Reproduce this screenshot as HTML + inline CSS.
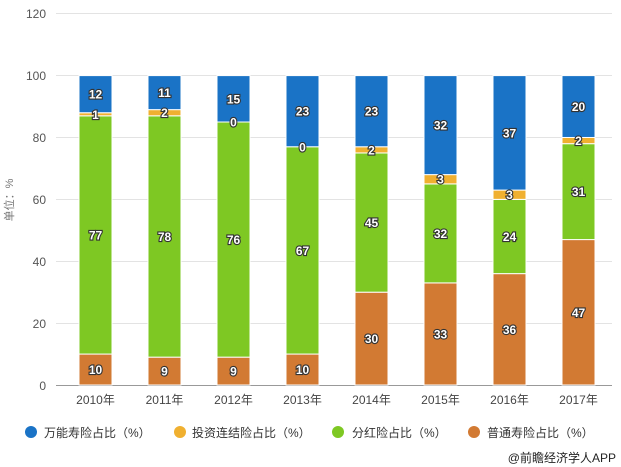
<!DOCTYPE html>
<html><head><meta charset="utf-8"><style>
html,body{margin:0;padding:0;background:#fff;}
svg{display:block;font-family:"Liberation Sans","Noto Sans CJK SC",sans-serif;}
.v{font-size:12px;font-weight:bold;fill:#fff;stroke:#333;stroke-width:2.2px;paint-order:stroke;text-anchor:middle;}
.b{fill:#1a73c6}.o{fill:#f0b030}.g{fill:#7ec823}.r{fill:#d27a33}
rect{stroke:#fff;stroke-width:1}
</style></head><body>
<svg width="621" height="467" viewBox="0 0 621 467">
<g stroke="#e3e3e3" stroke-width="1">
<line x1="56" x2="612" y1="13.5" y2="13.5"/><line x1="56" x2="612" y1="75.5" y2="75.5"/>
<line x1="56" x2="612" y1="137.5" y2="137.5"/><line x1="56" x2="612" y1="199.5" y2="199.5"/>
<line x1="56" x2="612" y1="261.5" y2="261.5"/><line x1="56" x2="612" y1="323.5" y2="323.5"/>
</g>
<line x1="56" x2="612" y1="385.5" y2="385.5" stroke="#999"/>
<g font-size="12" fill="#555" text-anchor="end">
<text x="46" y="18">120</text><text x="46" y="80">100</text><text x="46" y="142">80</text>
<text x="46" y="204">60</text><text x="46" y="266">40</text><text x="46" y="328">20</text><text x="46" y="390">0</text>
</g>
<text transform="translate(13,200) rotate(-90)" font-size="11" fill="#777" text-anchor="middle">单位：%</text>

<rect class="r" x="79" y="354.06" width="33" height="30.94"/>
<rect class="g" x="79" y="115.82" width="33" height="238.24"/>
<rect class="o" x="79" y="112.73" width="33" height="3.09"/>
<rect class="b" x="79" y="75.6" width="33" height="37.13"/>
<rect class="r" x="148" y="357.15" width="33" height="27.85"/>
<rect class="g" x="148" y="115.82" width="33" height="241.33"/>
<rect class="o" x="148" y="109.63" width="33" height="6.19"/>
<rect class="b" x="148" y="75.6" width="33" height="34.03"/>
<rect class="r" x="217" y="357.15" width="33" height="27.85"/>
<rect class="g" x="217" y="122.01" width="33" height="235.14"/>
<rect class="b" x="217" y="75.6" width="33" height="46.41"/>
<rect class="r" x="286" y="354.06" width="33" height="30.94"/>
<rect class="g" x="286" y="146.76" width="33" height="207.3"/>
<rect class="b" x="286" y="75.6" width="33" height="71.16"/>
<rect class="r" x="355" y="292.18" width="33" height="92.82"/>
<rect class="g" x="355" y="152.95" width="33" height="139.23"/>
<rect class="o" x="355" y="146.76" width="33" height="6.19"/>
<rect class="b" x="355" y="75.6" width="33" height="71.16"/>
<rect class="r" x="424" y="282.9" width="33" height="102.1"/>
<rect class="g" x="424" y="183.89" width="33" height="99.01"/>
<rect class="o" x="424" y="174.61" width="33" height="9.28"/>
<rect class="b" x="424" y="75.6" width="33" height="99.01"/>
<rect class="r" x="493" y="273.62" width="33" height="111.38"/>
<rect class="g" x="493" y="199.36" width="33" height="74.26"/>
<rect class="o" x="493" y="190.08" width="33" height="9.28"/>
<rect class="b" x="493" y="75.6" width="33" height="114.48"/>
<rect class="r" x="562" y="239.58" width="33" height="145.42"/>
<rect class="g" x="562" y="143.67" width="33" height="95.91"/>
<rect class="o" x="562" y="137.48" width="33" height="6.19"/>
<rect class="b" x="562" y="75.6" width="33" height="61.88"/>

<g>
<text class="v" x="95.5" y="374">10</text><text class="v" x="95.5" y="239.4">77</text><text class="v" x="95.5" y="118.8">1</text><text class="v" x="95.5" y="98.7">12</text>
<text class="v" x="164.5" y="375.6">9</text><text class="v" x="164.5" y="241">78</text><text class="v" x="164.5" y="117.2">2</text><text class="v" x="164.5" y="97.1">11</text>
<text class="v" x="233.5" y="375.6">9</text><text class="v" x="233.5" y="244.1">76</text><text class="v" x="233.5" y="126.5">0</text><text class="v" x="233.5" y="103.3">15</text>
<text class="v" x="302.5" y="374">10</text><text class="v" x="302.5" y="254.9">67</text><text class="v" x="302.5" y="151.3">0</text><text class="v" x="302.5" y="115.7">23</text>
<text class="v" x="371.5" y="343.1">30</text><text class="v" x="371.5" y="227.1">45</text><text class="v" x="371.5" y="154.4">2</text><text class="v" x="371.5" y="115.7">23</text>
<text class="v" x="440.5" y="338.5">33</text><text class="v" x="440.5" y="237.9">32</text><text class="v" x="440.5" y="183.7">3</text><text class="v" x="440.5" y="129.6">32</text>
<text class="v" x="509.5" y="333.8">36</text><text class="v" x="509.5" y="241">24</text><text class="v" x="509.5" y="199.2">3</text><text class="v" x="509.5" y="137.3">37</text>
<text class="v" x="578.5" y="316.8">47</text><text class="v" x="578.5" y="196.1">31</text><text class="v" x="578.5" y="145.1">2</text><text class="v" x="578.5" y="111">20</text>
</g>

<g font-size="12" fill="#444" text-anchor="middle">
<text x="95.5" y="404">2010年</text><text x="164.5" y="404">2011年</text><text x="233.5" y="404">2012年</text><text x="302.5" y="404">2013年</text>
<text x="371.5" y="404">2014年</text><text x="440.5" y="404">2015年</text><text x="509.5" y="404">2016年</text><text x="578.5" y="404">2017年</text>
</g>

<g font-size="12" fill="#333">
<circle cx="31" cy="432" r="6" fill="#1a73c6"/><text x="44" y="437">万能寿险占比（%）</text>
<circle cx="180" cy="432" r="6" fill="#f0b030"/><text x="192" y="437">投资连结险占比（%）</text>
<circle cx="338" cy="432" r="6" fill="#7ec823"/><text x="352" y="437">分红险占比（%）</text>
<circle cx="474" cy="432" r="6" fill="#d27a33"/><text x="487" y="437">普通寿险占比（%）</text>
<text x="616" y="462" text-anchor="end" font-size="12" fill="#222">@前瞻经济学人APP</text>
</g>
</svg>
</body></html>
